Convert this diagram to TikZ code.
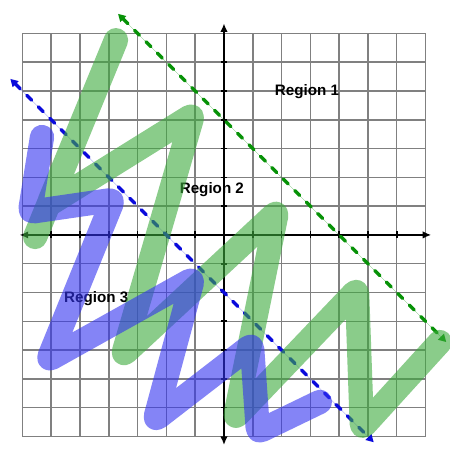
\documentclass[tikz,border=0pt]{standalone}
\usepackage{fontspec}
\setsansfont{Liberation Sans}
\usetikzlibrary{arrows.meta}
\definecolor{GridGray}{HTML}{808080}
\definecolor{LineGreen}{HTML}{079207}
\definecolor{LineBlue}{HTML}{0A0ADC}
\definecolor{MarkGreen}{HTML}{3CAA3C}
\definecolor{MarkBlue}{HTML}{3232F0}
\tikzset{
  gridline/.style={draw=GridGray, line width=1.5pt},
  axisline/.style={{Latex[length=3mm,width=2.6mm]}-{Latex[length=3mm,width=2.6mm]}, line width=2.2pt, draw=black},
  boundline/.style={{Triangle[length=2.6mm,width=2.8mm]}-{Triangle[length=2.6mm,width=2.8mm]},
                    line width=3.2pt, dash pattern=on 7pt off 9pt, line cap=round},
  marker/.style={line width=24pt, line cap=round, line join=round, rounded corners=4pt, draw opacity=0.6},
  regionlabel/.style={font=\sffamily\bfseries\fontsize{15}{17}\selectfont}
}
\begin{document}
\begin{tikzpicture}
  \useasboundingbox (-7.78,-7.47) rectangle (7.85,8.16);
  \fill[white] (-7.78,-7.47) rectangle (7.85,8.16);

  % grid and axes
  \draw[gridline] (-7,-7) grid (7,7);
  \draw[axisline] (-7.1,0) -- (7.2,0);
  \draw[axisline] (0,-7.3) -- (0,7.35);
  \foreach \k in {-6,...,6} {
    \draw[line width=1.6pt] (\k,-0.12) -- (\k,0.12);
    \draw[line width=1.6pt] (-0.12,\k) -- (0.12,\k);
  }

  % boundary lines
  \coordinate (gA) at (-3.68,7.68);
  \coordinate (gB) at (7.72,-3.72);
  \coordinate (bA) at (-7.42,5.42);
  \coordinate (bB) at (5.2,-7.2);
  \draw[boundline, draw=LineGreen, fill=LineGreen] (gA) -- (gB);
  \draw[boundline, draw=LineBlue, fill=LineBlue] (bA) -- (bB);

  % labels
  \node[regionlabel] (reg1) at (2.88,4.97) {Region 1};
  \node[regionlabel] (reg2) at (-0.42,1.56) {Region 2};
  \node[regionlabel] (reg3) at (-4.44,-2.22) {Region 3};

  % shading strokes
  \draw[marker, draw=MarkGreen] (-6.56,-0.07) -- (-3.72,6.84) -- (-6.11,1.04) -- (-1.08,4.17)
    -- (-3.51,-4.17) -- (1.84,0.80) -- (0.38,-6.35) -- (4.62,-1.91) -- (4.79,-6.70) -- (7.5,-3.72);
  \draw[marker, draw=MarkBlue] (-6.32,3.40) -- (-6.74,0.80) -- (-3.85,1.22) -- (-6.11,-4.34)
    -- (-1.08,-1.53) -- (-2.40,-6.42) -- (0.97,-3.82) -- (1.18,-6.84) -- (3.33,-5.80);
\end{tikzpicture}
\end{document}
